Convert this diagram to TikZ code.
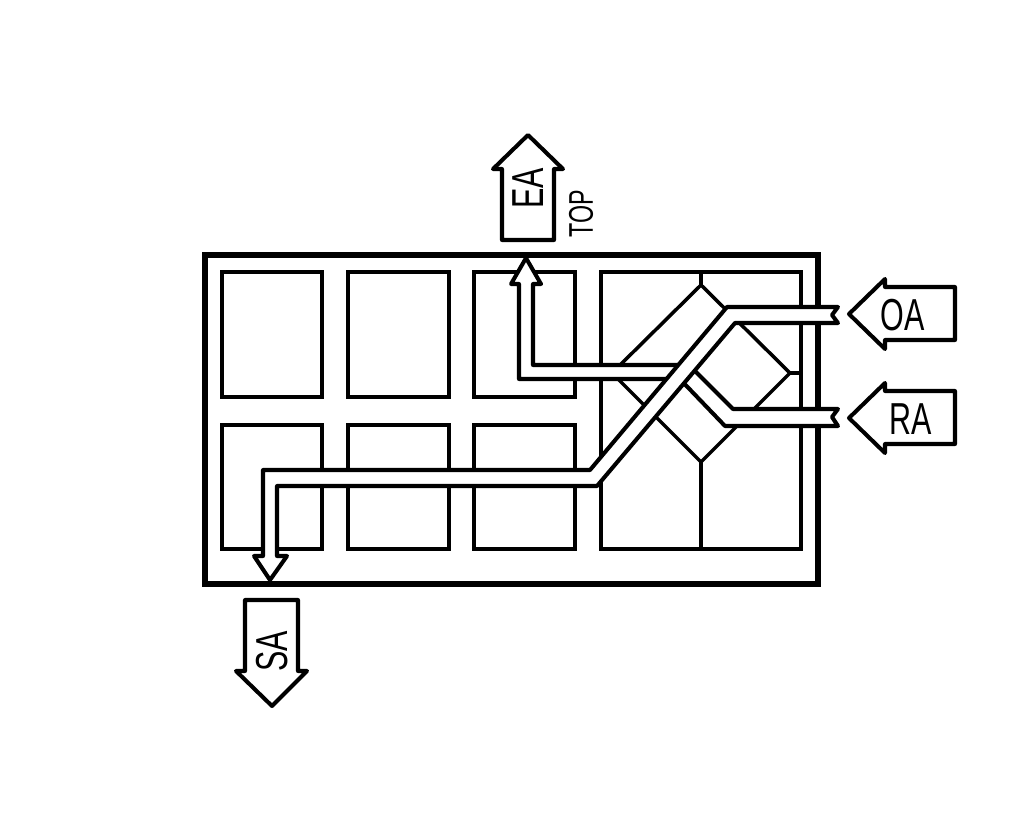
\documentclass[tikz,border=0pt]{standalone}
\usepackage{fontspec}
\setmainfont[FakeStretch=0.68]{Liberation Sans}
\tikzset{
	roomline/.style={line width=2.7pt},
	duct/.style={line width=2.3pt,fill=white,line join=round},
	coilline/.style={line width=2pt},
	flowlabel/.style={font=\fontsize{25.5}{25.5}\selectfont,inner sep=0pt},
}

\begin{document}
\begin{tikzpicture}[x=0.02cm,y=-0.02cm]
	\useasboundingbox (0,0) rectangle (1022,839);

	% casing and rooms
	\draw [roomline,line width=2.9pt] (205,255) rectangle (818,584);
	\draw [roomline] (222,272) rectangle (322,397);
	\draw [roomline] (348,272) rectangle (449,397);
	\draw [roomline] (474,272) rectangle (575,397);
	\draw [roomline] (222,425) rectangle (322,549);
	\draw [roomline] (348,425) rectangle (449,549);
	\draw [roomline] (474,425) rectangle (575,549);
	\draw [roomline] (601,272) rectangle (801,549);

	% exchanger
	\draw [coilline,line join=round] (701,285) -- (790,373) -- (701,462) -- (612,373) -- cycle;
	\draw [coilline] (701,272) -- (701,285);
	\draw [coilline] (701,462) -- (701,549);
	\draw [coilline] (790,373) -- (801,373);

	% ducts
	\draw [duct] (688,365) -- (533,365) -- (533,284) -- (541,284) -- (526,258) -- (511,284)
	   -- (519,284) -- (519,379) -- (675,379) -- cycle;
	\draw [duct] (688,364) -- (733,409) -- (838,409) -- (832,417) -- (838,426) -- (725,426)
	   -- (676,375) -- cycle;
	\draw [duct] (838,307) -- (727,307) -- (590,470) -- (263,470) -- (263,556) -- (254,556)
	   -- (270,580) -- (287,556) -- (277,556) -- (277,486) -- (597,486) -- (735,323)
	   -- (838,323) -- (832,315) -- cycle;

	% outside air labels
	\draw [duct] (528,135) -- (563,169) -- (554,169) -- (554,240) -- (502,240) -- (502,169) -- (493,169) -- cycle;
	\draw [duct] (272,706) -- (307,671) -- (298,671) -- (298,600) -- (245,600) -- (245,671) -- (236,671) -- cycle;
	\draw [duct] (849,314) -- (885,279) -- (885,287) -- (955,287) -- (955,340) -- (885,340) -- (885,349) -- cycle;
	\draw [duct] (849,418) -- (885,383) -- (885,391) -- (955,391) -- (955,444) -- (885,444) -- (885,453) -- cycle;

	\node [flowlabel,rotate=90] (ealabel) at (528,188) {EA};
	\node [flowlabel,rotate=90] (salabel) at (272,651) {SA};
	\node [flowlabel] (oalabel) at (902.5,315) {OA};
	\node [flowlabel] (ralabel) at (910.5,419) {RA};
	\node [flowlabel,rotate=90,font=\fontsize{19.5}{19.5}\selectfont] (toplabel) at (581,214) {TOP};
\end{tikzpicture}
\end{document}
